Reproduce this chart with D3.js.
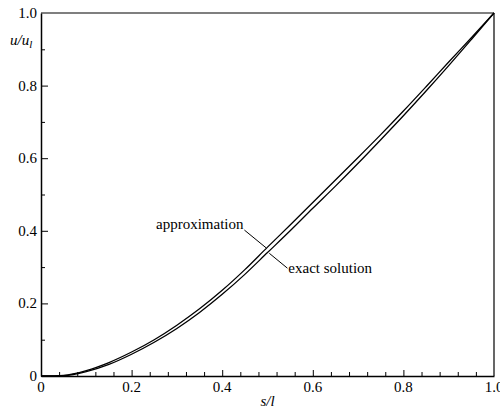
<!DOCTYPE html>
<html>
<head>
<meta charset="utf-8">
<script src="https://cdn.jsdelivr.net/npm/d3@7"></script>
<style>
  body { margin: 0; background: #fff; }
  svg text { font-family: "Liberation Serif", "DejaVu Serif", serif; font-size: 15px; fill: #000; }
</style>
</head>
<body>
<div id="chart"></div>
<script>
// s/l positions and u/u_l for both curves
const sValues = [0, 0.05, 0.1, 0.15, 0.2, 0.25, 0.3, 0.35, 0.4, 0.45, 0.5, 0.55, 0.6, 0.65, 0.7, 0.75, 0.8, 0.85, 0.9, 0.95, 1.0];
const approximation = [0, 0.002, 0.015, 0.037, 0.066, 0.1, 0.14, 0.185, 0.236, 0.293, 0.355, 0.416, 0.478, 0.54, 0.602, 0.665, 0.73, 0.797, 0.865, 0.932, 1.0];
const exactSolution = [0, 0.001, 0.012, 0.032, 0.06, 0.093, 0.131, 0.175, 0.225, 0.28, 0.34, 0.4, 0.462, 0.523, 0.586, 0.651, 0.717, 0.785, 0.855, 0.927, 1.0];
const xTicks = [0, 0.2, 0.4, 0.6, 0.8, 1.0];
const xTickLabels = ['0', '0.2', '0.4', '0.6', '0.8', '1.0'];
const yTicks = [0, 0.2, 0.4, 0.6, 0.8, 1.0];
const yTickLabels = ['0', '0.2', '0.4', '0.6', '0.8', '1.0'];

;(function () {
  const margin = { left: 41, top: 13, right: 6, bottom: 36 };
  const width = 500 - margin.left - margin.right;
  const height = 412 - margin.top - margin.bottom;
  const serif = '"Liberation Serif", "DejaVu Serif", serif';

  const svg = d3.select('#chart').append('svg')
    .attr('width', 500)
    .attr('height', 412);
  const frame = svg.append('g')
    .attr('transform', `translate(${margin.left} ${margin.top})`);

  const xScale = d3.scaleLinear().domain([0, 1]).range([0, width]);
  const yScale = d3.scaleLinear().domain([0, 1]).range([height, 0]);

  // box: top and right edges
  frame.append('line')
    .attr('stroke', '#000').attr('stroke-width', 1.2)
    .attr('x1', 0).attr('y1', 0).attr('x2', width).attr('y2', 0);
  frame.append('line')
    .attr('stroke', '#000').attr('stroke-width', 1.2)
    .attr('x1', width).attr('y1', 0).attr('x2', width).attr('y2', height);

  // x axis, ticks pointing inward
  const xAxis = frame.append('g')
    .attr('transform', `translate(0 ${height})`)
    .call(d3.axisBottom(xScale)
      .tickValues(d3.range(0, 1.0001, 0.04))
      .tickSize(0)
      .tickFormat(''));
  xAxis.select('.domain').attr('stroke', '#000').attr('stroke-width', 1.5);
  xAxis.selectAll('.tick line')
    .attr('stroke', '#000').attr('stroke-width', 1)
    .attr('y2', (d, i) => i % 5 === 0 ? -6 : -4);
  xAxis.selectAll('.tick').filter((d, i) => i === 25).remove();

  frame.selectAll('text.xlabel')
    .data(xTicks)
    .enter().append('text')
    .attr('class', 'xlabel')
    .attr('font-family', serif)
    .attr('text-anchor', 'middle')
    .attr('x', d => xScale(d))
    .attr('y', height + 16)
    .text((d, i) => xTickLabels[i]);

  // y axis, ticks pointing inward
  const yAxis = frame.append('g')
    .call(d3.axisLeft(yScale)
      .tickValues(d3.range(0, 1.0001, 0.1))
      .tickSize(0)
      .tickFormat(''));
  yAxis.select('.domain').attr('stroke', '#000').attr('stroke-width', 1.5);
  yAxis.selectAll('.tick line')
    .attr('stroke', '#000').attr('stroke-width', 1)
    .attr('x2', (d, i) => i % 2 === 0 ? 7 : 4);
  yAxis.selectAll('.tick').filter((d, i) => i === 0 || i === 10).remove();

  frame.selectAll('text.ylabel')
    .data(yTicks)
    .enter().append('text')
    .attr('class', 'ylabel')
    .attr('font-family', serif)
    .attr('text-anchor', 'end')
    .attr('dominant-baseline', 'central')
    .attr('x', -4)
    .attr('y', d => yScale(d))
    .text((d, i) => yTickLabels[i]);

  // axis titles
  const yTitle = svg.append('text')
    .attr('font-family', serif)
    .attr('x', 10)
    .attr('y', 45)
    .attr('font-style', 'italic');
  yTitle.append('tspan').text('u/u');
  yTitle.append('tspan').attr('dy', 3).attr('font-size', '11px').text('l');

  svg.append('text')
    .attr('font-family', serif)
    .attr('x', margin.left + width / 2)
    .attr('y', 406)
    .attr('text-anchor', 'middle')
    .attr('font-style', 'italic')
    .text('s/l');

  // curves
  const line = d3.line()
    .x((d, i) => xScale(sValues[i]))
    .y(d => yScale(d))
    .curve(d3.curveMonotoneX);

  [approximation, exactSolution].forEach(series => {
    frame.append('path')
      .datum(series)
      .attr('fill', 'none')
      .attr('stroke', '#000')
      .attr('stroke-width', 1.3)
      .attr('d', line);
  });

  // annotations
  frame.append('line')
    .attr('stroke', '#000').attr('stroke-width', 1)
    .attr('x1', xScale(0.449)).attr('y1', yScale(0.402))
    .attr('x2', xScale(0.497)).attr('y2', yScale(0.353));
  frame.append('text')
    .attr('font-family', serif)
    .attr('text-anchor', 'end')
    .attr('x', xScale(0.447))
    .attr('y', yScale(0.404))
    .text('approximation');

  frame.append('line')
    .attr('stroke', '#000').attr('stroke-width', 1)
    .attr('x1', xScale(0.504)).attr('y1', yScale(0.338))
    .attr('x2', xScale(0.544)).attr('y2', yScale(0.297));
  frame.append('text')
    .attr('font-family', serif)
    .attr('text-anchor', 'start')
    .attr('x', xScale(0.546))
    .attr('y', yScale(0.284))
    .text('exact solution');
})();
</script>
</body>
</html>
